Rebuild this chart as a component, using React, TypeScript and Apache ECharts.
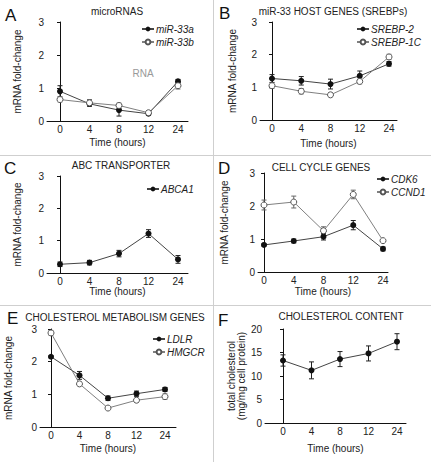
import { useEffect, useRef } from "react";
import * as echarts from "echarts";

// ---------- data ----------
const tickLabels = ["0", "4", "8", "12", "24"];

const miR33a = [0.9, 0.52, 0.33, 0.22, 1.2];
const miR33aErr = [0.17, 0.08, 0.18, 0.04, 0.06];
const miR33b = [0.65, 0.55, 0.47, 0.25, 1.07];
const miR33bErr = [0.07, 0.1, 0.07, 0.04, 0.1];

const srebp2 = [1.27, 1.2, 1.1, 1.35, 1.72];
const srebp2Err = [0.12, 0.13, 0.15, 0.15, 0.07];
const srebp1c = [1.05, 0.88, 0.77, 1.18, 1.93];
const srebp1cErr = [0.08, 0.08, 0.05, 0.07, 0.08];

const abca1 = [0.27, 0.32, 0.6, 1.22, 0.42];
const abca1Err = [0.07, 0.07, 0.1, 0.12, 0.12];

const cdk6 = [0.82, 0.94, 1.07, 1.42, 0.7];
const cdk6Err = [0.03, 0.06, 0.1, 0.14, 0.06];
const ccnd1 = [2.03, 2.12, 1.25, 2.35, 0.95];
const ccnd1Err = [0.15, 0.18, 0.12, 0.13, 0.03];

const ldlr = [2.15, 1.58, 0.88, 1.02, 1.15];
const ldlrErr = [0.03, 0.12, 0.07, 0.08, 0.06];
const hmgcr = [2.88, 1.32, 0.58, 0.82, 0.93];
const hmgcrErr = [0.07, 0.04, 0.05, 0.05, 0.08];

const cholesterol = [13.3, 11.2, 13.6, 14.8, 17.3];
const cholesterolErr = [1.2, 1.8, 1.6, 1.6, 1.7];

const panelTitles = [
  "microRNAS",
  "miR-33 HOST GENES (SREBPs)",
  "ABC TRANSPORTER",
  "CELL CYCLE GENES",
  "CHOLESTEROL METABOLISM GENES",
  "CHOLESTEROL CONTENT",
];
const panelLetters = ["A", "B", "C", "D", "E", "F"];
const xAxisName = "Time (hours)";
const yAxisNameFold = "mRNA fold-change";
const yAxisNameChol = "total cholesterol\n(mg/mg cell protein)";

// ---------- layout (pixels) ----------
const FONT = "'Liberation Sans', Arial, Helvetica, sans-serif";
const layouts = [
  { axisX: 47, x0: 60, x24: 178, xEnd: 188, yTop: 22, yBottom: 121, max: 3, interval: 1, xGap: 16, yGap: 25 },
  { axisX: 260, x0: 272, x24: 389, xEnd: 397, yTop: 22, yBottom: 120, max: 3, interval: 1, xGap: 18, yGap: 23 },
  { axisX: 47, x0: 60, x24: 178, xEnd: 188, yTop: 176, yBottom: 273, max: 3, interval: 1, xGap: 12, yGap: 25 },
  { axisX: 258, x0: 264, x24: 383, xEnd: 388, yTop: 173, yBottom: 272, max: 3, interval: 1, xGap: 14, yGap: 29 },
  { axisX: 40, x0: 51, x24: 165, xEnd: 176, yTop: 329, yBottom: 427, max: 3, interval: 1, xGap: 16, yGap: 27 },
  { axisX: 265, x0: 283, x24: 397, xEnd: 406, yTop: 329, yBottom: 423, max: 20, interval: 5, xGap: 20, yGap: 12 },
];

const FILLED = { itemColor: "#111", lineColor: "#444", errColor: "#222" };
const OPEN = { itemColor: "#fff", border: "#555", lineColor: "#808080", errColor: "#666" };

export default function App() {
  const ref = useRef<HTMLDivElement>(null);

  useEffect(() => {
    document.body.style.margin = "0";
    const chart = echarts.init(ref.current!, null, { renderer: "svg" });

    const grid = layouts.map((l) => ({
      left: l.axisX,
      top: l.yTop,
      width: l.xEnd - l.axisX,
      height: l.yBottom - l.yTop,
    }));

    const xAxis = layouts.map((l, i) => {
      const sp = (l.x24 - l.x0) / 4;
      return {
        type: "value",
        gridIndex: i,
        min: -(l.x0 - l.axisX) / sp,
        max: 4 + (l.xEnd - l.x24) / sp,
        splitLine: { show: false },
        axisTick: { show: false },
        axisLine: { show: true, onZero: false, lineStyle: { color: "#111", width: 1 } },
        axisLabel: {
          customValues: [0, 1, 2, 3, 4],
          formatter: (v: number) => tickLabels[Math.round(v)] ?? "",
          fontSize: 10,
          color: "#222",
          margin: 3,
          fontFamily: FONT,
        },
        name: xAxisName,
        nameLocation: "middle",
        nameGap: l.xGap,
        nameTextStyle: { fontSize: 10, color: "#222", fontFamily: FONT },
      };
    });

    const yAxis = layouts.map((l, i) => ({
      type: "value",
      gridIndex: i,
      min: 0,
      max: l.max,
      interval: l.interval,
      splitLine: { show: false },
      axisLine: { show: true, lineStyle: { color: "#111", width: 1 } },
      axisTick: { show: true, length: 3, lineStyle: { color: "#111" } },
      axisLabel: { fontSize: 10, color: "#222", margin: 3, fontFamily: FONT },
      name: i === 5 ? yAxisNameChol : yAxisNameFold,
      nameLocation: "middle",
      nameGap: l.yGap,
      nameTextStyle: { fontSize: 10, color: "#222", fontFamily: FONT, lineHeight: 10 },
    }));

    const toPts = (vals: number[]) => vals.map((v, i) => [i, v]);
    const toErr = (vals: number[], errs: number[]) => vals.map((v, i) => [i, v, errs[i]]);

    const lineSeries = (name: string, vals: number[], idx: number, open: boolean) => ({
      type: "line",
      name,
      xAxisIndex: idx,
      yAxisIndex: idx,
      data: toPts(vals),
      symbol: "circle",
      symbolSize: 6,
      z: 3,
      lineStyle: { color: open ? OPEN.lineColor : FILLED.lineColor, width: 1 },
      itemStyle: open
        ? { color: OPEN.itemColor, borderColor: OPEN.border, borderWidth: 1 }
        : { color: FILLED.itemColor, borderColor: FILLED.itemColor, borderWidth: 0 },
      emphasis: { disabled: true },
    });

    const errSeries = (vals: number[], errs: number[], idx: number, open: boolean) => ({
      type: "custom",
      xAxisIndex: idx,
      yAxisIndex: idx,
      data: toErr(vals, errs),
      encode: { x: 0, y: 1 },
      silent: true,
      z: 2,
      renderItem: (_p: any, api: any) => {
        const x = api.value(0);
        const y = api.value(1);
        const e = api.value(2);
        const t = api.coord([x, y + e]);
        const b = api.coord([x, y - e]);
        const w = 2.5;
        const stroke = open ? OPEN.errColor : FILLED.errColor;
        const st = { stroke, lineWidth: 1 };
        return {
          type: "group",
          children: [
            { type: "line", shape: { x1: t[0], y1: t[1], x2: b[0], y2: b[1] }, style: st },
            { type: "line", shape: { x1: t[0] - w, y1: t[1], x2: t[0] + w, y2: t[1] }, style: st },
            { type: "line", shape: { x1: b[0] - w, y1: b[1], x2: b[0] + w, y2: b[1] }, style: st },
          ],
        };
      },
    });

    const groups: [string, number[], number[], number, boolean][] = [
      ["miR-33a", miR33a, miR33aErr, 0, false],
      ["miR-33b", miR33b, miR33bErr, 0, true],
      ["SREBP-2", srebp2, srebp2Err, 1, false],
      ["SREBP-1C", srebp1c, srebp1cErr, 1, true],
      ["ABCA1", abca1, abca1Err, 2, false],
      ["CDK6", cdk6, cdk6Err, 3, false],
      ["CCND1", ccnd1, ccnd1Err, 3, true],
      ["LDLR", ldlr, ldlrErr, 4, false],
      ["HMGCR", hmgcr, hmgcrErr, 4, true],
      ["cholesterol", cholesterol, cholesterolErr, 5, false],
    ];

    const series: any[] = [];
    groups.forEach(([name, vals, errs, idx, open]) => {
      series.push(errSeries(vals, errs, idx, open));
      series.push(lineSeries(name, vals, idx, open));
    });

    const legendBase = {
      orient: "vertical",
      padding: 0,
      itemWidth: 12,
      itemHeight: 6,
      itemGap: 3,
      selectedMode: false,
      textStyle: { fontSize: 10, fontStyle: "italic", color: "#222", fontFamily: FONT, lineHeight: 8, padding: [0, 0, 0, -3] },
    };
    const legend = [
      { ...legendBase, left: 141, top: 24, data: ["miR-33a", "miR-33b"] },
      { ...legendBase, left: 356, top: 24, data: ["SREBP-2", "SREBP-1C"] },
      { ...legendBase, left: 146, top: 184, data: ["ABCA1"] },
      { ...legendBase, left: 376, top: 174, data: ["CDK6", "CCND1"] },
      { ...legendBase, left: 152, top: 334, data: ["LDLR", "HMGCR"] },
    ];

    const titlePos = [
      [117, 11],
      [333, 11],
      [121, 165],
      [321, 167],
      [115, 317],
      [341, 316],
    ];
    const letterPos = [
      [5, 15],
      [219, 13],
      [4, 168],
      [218, 168],
      [7, 318],
      [218, 320],
    ];

    const sepStyle = { stroke: "#cfcfcf", lineWidth: 1 };
    const graphic: any[] = [
      { type: "line", shape: { x1: 213.5, y1: 0, x2: 213.5, y2: 462 }, style: sepStyle, silent: true },
      { type: "line", shape: { x1: 0, y1: 155.5, x2: 431, y2: 155.5 }, style: sepStyle, silent: true },
      { type: "line", shape: { x1: 0, y1: 305.5, x2: 431, y2: 305.5 }, style: sepStyle, silent: true },
    ];
    panelTitles.forEach((t, i) => {
      graphic.push({
        type: "text",
        x: titlePos[i][0],
        y: titlePos[i][1],
        style: { text: t, fontSize: 10, fill: "#222", fontFamily: FONT, textAlign: "center", textVerticalAlign: "middle" },
        silent: true,
      });
    });
    panelLetters.forEach((t, i) => {
      graphic.push({
        type: "text",
        x: letterPos[i][0],
        y: letterPos[i][1],
        style: { text: t, fontSize: 17, fill: "#111", fontFamily: FONT, textAlign: "left", textVerticalAlign: "middle" },
        silent: true,
      });
    });
    graphic.push({
      type: "text",
      x: 143,
      y: 73,
      style: { text: "RNA", fontSize: 10, fill: "#999", fontFamily: FONT, textAlign: "center", textVerticalAlign: "middle" },
      silent: true,
    });

    chart.setOption({
      animation: false,
      backgroundColor: "#fff",
      textStyle: { fontFamily: FONT },
      grid,
      xAxis,
      yAxis,
      legend,
      series,
      graphic,
    });

    return () => chart.dispose();
  }, []);

  return <div ref={ref} style={{ width: 431, height: 462, position: "absolute", left: 0, top: 0 }} />;
}
